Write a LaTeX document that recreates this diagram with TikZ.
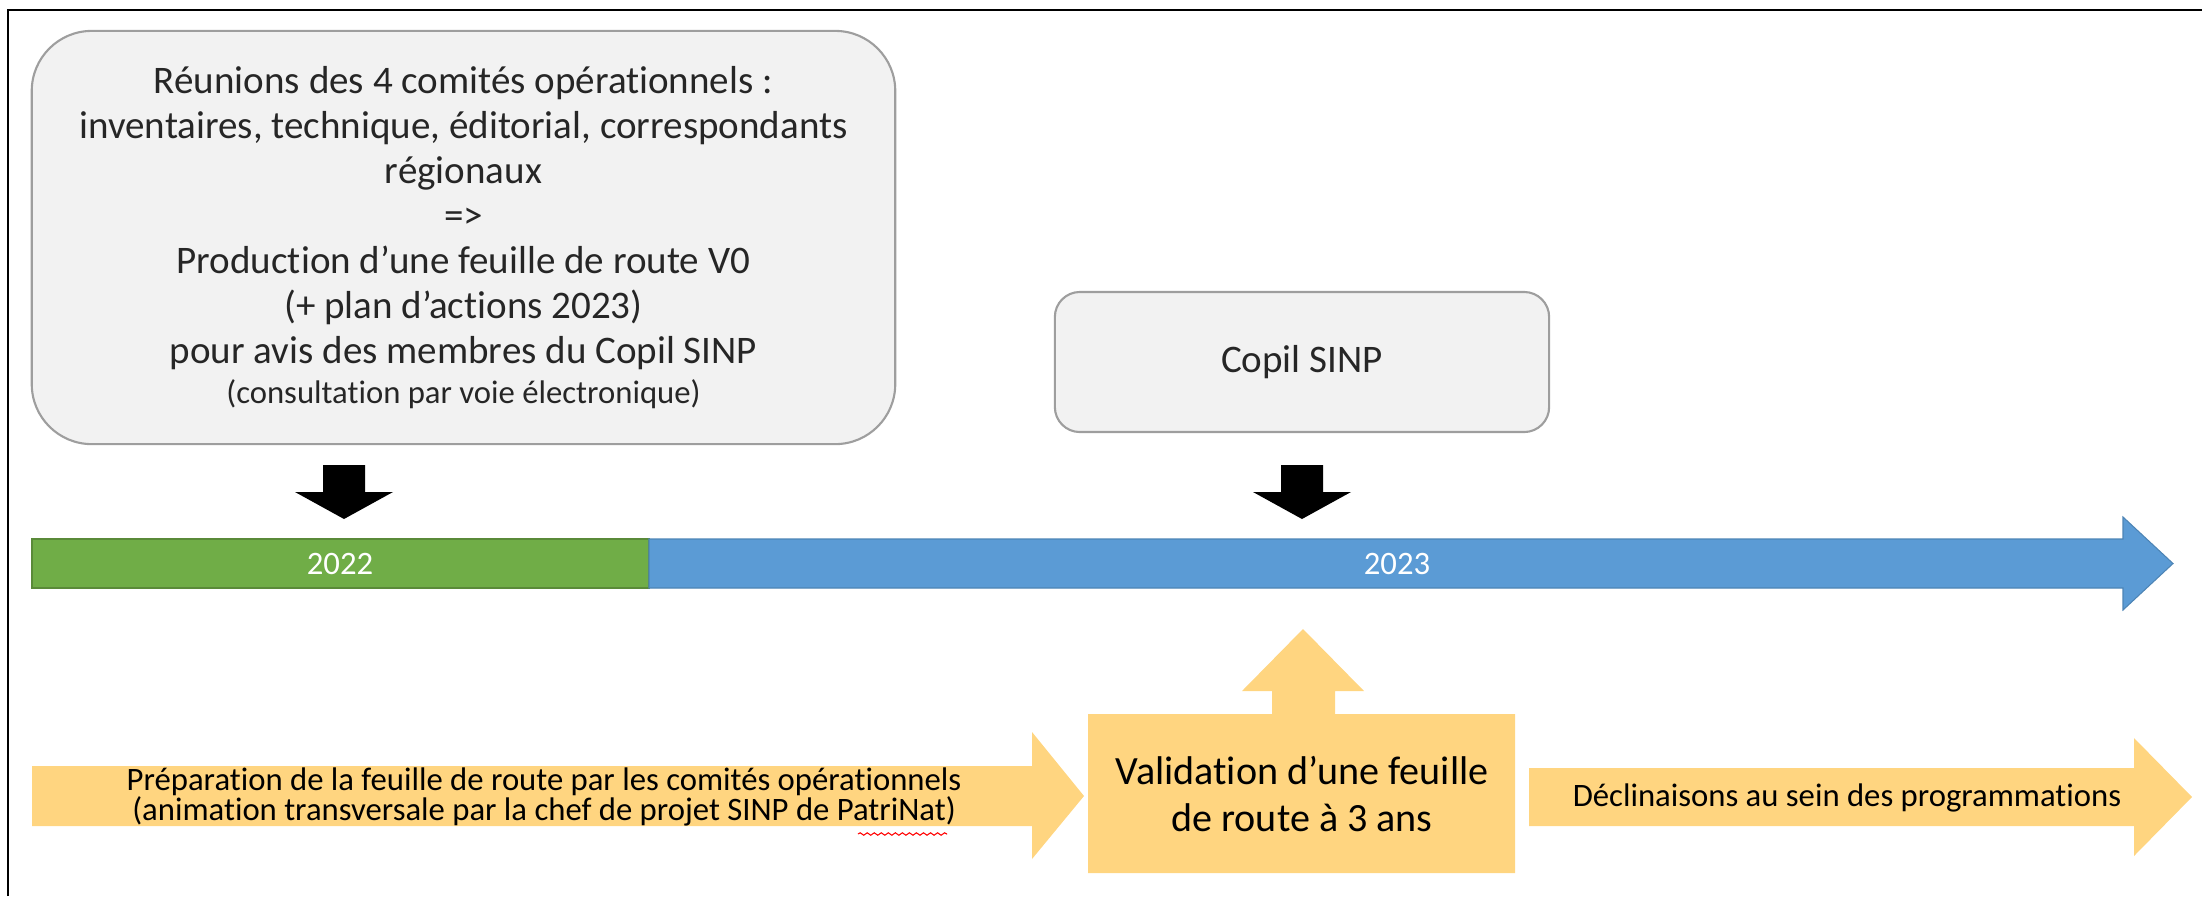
\documentclass[tikz,border=0pt]{standalone}
\usepackage{fontspec}
\setmainfont{Carlito}[Ligatures=NoCommon]
\usetikzlibrary{decorations.pathmorphing}
\definecolor{boxgray}{HTML}{F2F2F2}
\definecolor{boxline}{HTML}{9E9E9E}
\definecolor{green22}{HTML}{70AD47}
\definecolor{blue23}{HTML}{5B9BD5}
\definecolor{gold}{HTML}{FFD580}
\tikzset{
  bigfont/.style={font=\fontsize{11.1}{12.8}\selectfont},
  smallfont/.style={font=\fontsize{9.3}{11}\selectfont},
  greybox/.style={draw=boxline, fill=boxgray, line width=0.6pt, text=black!85, align=center, bigfont},
}

\begin{document}
\begin{tikzpicture}[x=0.01cm, y=-0.01cm]
      \useasboundingbox (0,0) rectangle (2202,896);
      \draw[line width=0.6pt] (8,896) -- (8,10) -- (2202,10);

      \node[greybox, rounded corners=0.6cm, minimum width=8.63cm, minimum height=4.13cm](reunions) at (463.5, 237.5) {R\'eunions des 4 comit\'es op\'erationnels :\\
        inventaires, technique, \'editorial, correspondants\\
        r\'egionaux\\
        =>\\
        Production d’une feuille de route V0\\
        (+ plan d’actions 2023)\\
        pour avis des membres du Copil SINP\\[-1.4pt]
        {\fontsize{9.3}{11}\selectfont (consultation par voie \'electronique)}};

      \node[greybox, rounded corners=0.25cm, minimum width=4.94cm, minimum height=1.4cm](copil) at (1302, 362) {Copil SINP};

      \foreach \x in {344, 1302} {
        \fill (\x-21, 465) -- (\x+21, 465) -- (\x+21, 492) -- (\x+49, 492) -- (\x, 519)
          -- (\x-49, 492) -- (\x-21, 492) -- cycle;
      }

      \fill[green22, draw=green22!80!black, line width=0.4pt] (32, 539) rectangle (649, 588);
      \fill[blue23, draw=blue23!85!black, line width=0.3pt] (649, 539) -- (2123, 539) -- (2123, 517)
        -- (2173, 563.5) -- (2123, 610) -- (2123, 588) -- (649, 588) -- cycle;
      \node[smallfont, text=white](y2022) at (340, 564) {2022};
      \node[smallfont, text=white](y2023) at (1397, 564) {2023};

      \fill[gold] (32, 766) -- (1032, 766) -- (1032, 732) -- (1084, 796) -- (1032, 859)
        -- (1032, 826) -- (32, 826) -- cycle;
      \fill[gold] (1088, 714) -- (1272, 714) -- (1272, 691) -- (1242, 691) -- (1303, 629)
        -- (1364, 691) -- (1335, 691) -- (1335, 714) -- (1515, 714) -- (1515, 873) -- (1088, 873) -- cycle;
      \fill[gold] (1529, 768) -- (2134, 768) -- (2134, 738) -- (2192, 797) -- (2134, 856)
        -- (2134, 826) -- (1529, 826) -- cycle;

      \node[font=\fontsize{9.3}{8.6}\selectfont, align=center](prep) at (544, 797) {Pr\'eparation de la feuille de route par les comit\'es op\'erationnels\\
        (animation transversale par la chef de projet SINP de PatriNat)};
      \node[font=\fontsize{11.4}{13.1}\selectfont, align=center](valid) at (1302, 794) {Validation d’une feuille\\de route \`a 3 ans};
      \node[smallfont](declin) at (1847, 798) {D\'eclinaisons au sein des programmations};

      \draw[red, line width=0.3pt, decorate, decoration={snake, amplitude=0.35pt, segment length=2pt}] (858, 834) -- (947, 834);
    \end{tikzpicture}
\end{document}
